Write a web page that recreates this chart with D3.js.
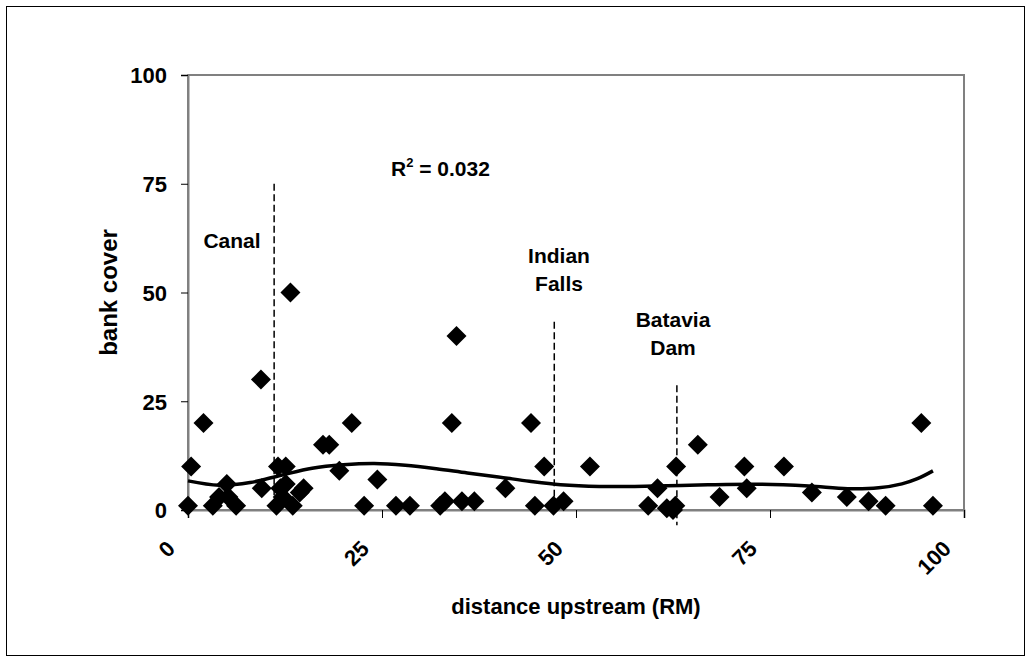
<!DOCTYPE html>
<html>
<head>
<meta charset="utf-8">
<script src="https://cdn.jsdelivr.net/npm/d3@7"></script>
<style>
  body { margin: 0; background: #fff; }
  text { font-family: Arial, "Liberation Sans", sans-serif; font-weight: bold; fill: #000; }
</style>
</head>
<body>
<script>
// observed points: distance upstream (RM) vs bank cover
var distance = [0, 0.4, 2, 3.2, 4, 5, 5.2, 6.2, 9.4, 9.5, 11.4, 11.9, 11.6, 12.6, 12.2, 12.6,
  13.5, 14.4, 14.9, 13.2, 17.4, 18.2, 19.5, 21.1, 22.7, 24.4, 26.8, 28.6, 32.5, 33.1, 34,
  34.6, 35.3, 36.9, 40.9, 44.2, 44.7, 45.9, 47.1, 48.4, 51.8, 59.3, 60.5, 61.7, 62.5, 62.8,
  62.9, 65.7, 68.5, 71.7, 72, 76.8, 80.4, 84.9, 87.7, 89.9, 94.5, 96];
var cover = [1, 10, 20, 1, 3, 6, 3, 1, 30, 5, 1, 5, 10, 10, 3, 6,
  1, 4, 5, 50, 15, 15, 9, 20, 1, 7, 1, 1, 1, 2, 20,
  40, 2, 2, 5, 20, 1, 10, 1, 2, 10, 1, 5, 0.4, 0, 1,
  10, 15, 3, 10, 5, 10, 4, 3, 2, 1, 20, 1];

// polynomial trend line
var trendX = [0, 4, 8, 12, 16, 20, 24, 28, 32, 36, 40, 44, 48, 53, 60, 67, 74, 80, 85, 89, 92, 94, 96];
var trendY = [6.7, 5.7, 6.3, 8.0, 9.6, 10.4, 10.7, 10.3, 9.5, 8.5, 7.6, 6.6, 5.8, 5.4, 5.5, 5.8, 5.9, 5.5, 4.9, 5.1, 6.0, 7.2, 9.0];

var ticks = [0, 25, 50, 75, 100];

// landmarks: x position, top of dashed line, bottom, label lines
var markName = [["Canal"], ["Indian", "Falls"], ["Batavia", "Dam"]];
var markX = [11.1, 47.2, 63];
var markTop = [75, 43.3, 28.7];
var markBottom = [0, 0, -3.5];

var rSquared = "0.032";

var width = 1031, height = 663;
var svg = d3.select("body").append("svg").attr("width", width).attr("height", height);

svg.append("rect").attr("x", 6.5).attr("y", 6.5).attr("width", 1018).attr("height", 649)
  .attr("fill", "#fff").attr("stroke", "#000").attr("stroke-width", 1);

var x = d3.scaleLinear().domain([0, 100]).range([188, 964]);
var y = d3.scaleLinear().domain([0, 100]).range([510, 75]);

// plot area border
svg.append("rect").attr("x", x(0)).attr("y", y(100)).attr("width", x(100) - x(0)).attr("height", y(0) - y(100))
  .attr("fill", "none").attr("stroke", "#808080").attr("stroke-width", 2);

var yAxis = svg.append("g").attr("transform", "translate(" + x(0) + ",0)")
  .call(d3.axisLeft(y).tickValues(ticks).tickSize(7).tickPadding(14));
var xAxis = svg.append("g").attr("transform", "translate(0," + y(0) + ")")
  .call(d3.axisBottom(x).tickValues(ticks).tickSize(8));

[yAxis, xAxis].forEach(function(g) {
  g.select(".domain").attr("stroke", "#808080").attr("stroke-width", 2);
  g.selectAll(".tick line").attr("stroke", "#000").attr("stroke-width", 1);
});
yAxis.selectAll(".tick text").style("font-size", "22px").attr("dy", "0.36em");
xAxis.selectAll(".tick text").remove();
xAxis.selectAll(".tick").append("text")
  .attr("transform", "translate(-12,40) rotate(-45)")
  .attr("text-anchor", "end")
  .style("font-size", "22px")
  .text(function(d) { return d; });

// landmark dashed lines and labels
markX.forEach(function(mx, i) {
  svg.append("line").attr("x1", x(mx)).attr("x2", x(mx))
    .attr("y1", y(markTop[i])).attr("y2", y(markBottom[i]))
    .attr("stroke", "#000").attr("stroke-width", 1.5).attr("stroke-dasharray", "7,3.5");
});
var labelPos = [[232, 248], [559, 263], [673, 327]];
markName.forEach(function(lines, i) {
  var t = svg.append("text").attr("text-anchor", "middle").style("font-size", "21px");
  lines.forEach(function(s, j) {
    t.append("tspan").attr("x", labelPos[i][0]).attr("y", labelPos[i][1] + j * 28).text(s);
  });
});

// trend line
var line = d3.line().curve(d3.curveCatmullRom)
  .x(function(d) { return x(d[0]); }).y(function(d) { return y(d[1]); });
svg.append("path").datum(d3.zip(trendX, trendY)).attr("d", line)
  .attr("fill", "none").attr("stroke", "#000").attr("stroke-width", 3.5);

// diamonds
svg.selectAll("path.pt").data(d3.zip(distance, cover)).enter().append("path")
  .attr("class", "pt")
  .attr("d", "M0,-10L10,0L0,10L-10,0Z")
  .attr("transform", function(d) { return "translate(" + x(d[0]) + "," + y(d[1]) + ")"; })
  .attr("fill", "#000");

// R squared
var r2 = svg.append("text").attr("x", 391).attr("y", 176).style("font-size", "21px");
r2.append("tspan").text("R");
r2.append("tspan").attr("dy", -9).style("font-size", "13px").text("2");
r2.append("tspan").attr("dy", 9).text(" = " + rSquared);

// axis titles
svg.append("text").attr("x", (x(0) + x(100)) / 2).attr("y", 614).attr("text-anchor", "middle")
  .style("font-size", "22px").text("distance upstream (RM)");
svg.append("text").attr("transform", "translate(117," + (y(0) + y(100)) / 2 + ") rotate(-90)")
  .attr("text-anchor", "middle").style("font-size", "24px").text("bank cover");
</script>
</body>
</html>
